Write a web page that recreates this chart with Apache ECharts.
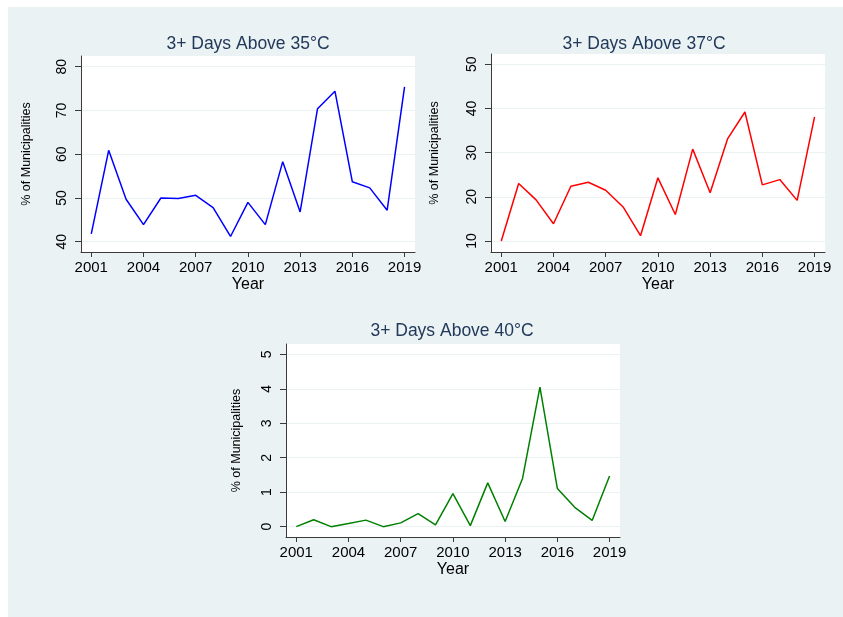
<!DOCTYPE html>
<html>
<head>
<meta charset="utf-8">
<script src="https://cdn.jsdelivr.net/npm/echarts@6/dist/echarts.min.js"></script>
<style>
  html, body { margin: 0; padding: 0; background: #ffffff; }
  #chart { width: 843px; height: 617px; }
</style>
</head>
<body>
<div id="chart"></div>
<script>
// Share of municipalities with 3+ consecutive days above each temperature threshold
const years = [2001, 2002, 2003, 2004, 2005, 2006, 2007, 2008, 2009, 2010,
               2011, 2012, 2013, 2014, 2015, 2016, 2017, 2018, 2019];
const above35 = [41.8, 60.9, 49.7, 43.9, 50.0, 49.9, 50.6, 47.8, 41.2, 49.0,
                 43.9, 58.3, 46.8, 70.4, 74.4, 53.7, 52.3, 47.2, 75.4];
const above37 = [10.0, 23.0, 19.3, 13.9, 22.4, 23.3, 21.5, 17.7, 11.2, 24.3,
                 16.0, 30.8, 20.9, 33.1, 39.2, 22.7, 23.9, 19.2, 38.1];
const above40 = [0.00, 0.20, 0.00, 0.09, 0.19, 0.00, 0.11, 0.38, 0.05, 0.96,
                 0.03, 1.27, 0.15, 1.40, 4.05, 1.11, 0.56, 0.18, 1.47];

const titles = ['3+ Days Above 35\u00B0C', '3+ Days Above 37\u00B0C', '3+ Days Above 40\u00B0C'];
const yearTicks = [2001, 2004, 2007, 2010, 2013, 2016, 2019];
const yTicks35 = [40, 50, 60, 70, 80];
const yTicks37 = [10, 20, 30, 40, 50];
const yTicks40 = [0, 1, 2, 3, 4, 5];
const xTitle = 'Year';
const yTitle = '% of Municipalities';

const FONT = '"Liberation Sans", Arial, Helvetica, sans-serif';
const BG = '#eaf2f3';
const AXIS = '#3a3a3a';
const TITLE = '#23395b';

const panels = [
  { grid: { left: 81, top: 56, width: 334, height: 196 }, yMin: 37.65, yMax: 82.45,
    ticks: yTicks35, values: above35, color: '#0000ff', nameGap: 48, title: [248, 44] },
  { grid: { left: 491, top: 54, width: 334, height: 198 }, yMin: 7.51, yMax: 52.33,
    ticks: yTicks37, values: above37, color: '#ff0000', nameGap: 50, title: [644, 44] },
  { grid: { left: 286, top: 344, width: 334, height: 193 }, yMin: -0.30, yMax: 5.30,
    ticks: yTicks40, values: above40, color: '#008000', nameGap: 43, title: [452, 331] }
];

const chart = echarts.init(document.getElementById('chart'), null, { renderer: 'canvas' });

const option = {
  backgroundColor: BG,
  animation: false,
  graphic: [
    // white margin along the top and left edges
    { type: 'rect', shape: { x: 0, y: 0, width: 843, height: 7 }, style: { fill: '#ffffff' }, silent: true },
    { type: 'rect', shape: { x: 0, y: 0, width: 8, height: 617 }, style: { fill: '#ffffff' }, silent: true }
  ].concat(panels.map((p, i) => ({
    type: 'text',
    x: p.title[0],
    y: p.title[1],
    style: {
      text: titles[i],
      fill: TITLE,
      font: '17.5px ' + FONT,
      textAlign: 'center',
      textVerticalAlign: 'middle'
    },
    silent: true
  }))),
  grid: panels.map(p => Object.assign({
    show: true, backgroundColor: '#ffffff', borderWidth: 0, containLabel: false
  }, p.grid)),
  xAxis: panels.map((p, i) => ({
    type: 'value',
    gridIndex: i,
    min: 2000.41,
    max: 2019.6,
    name: xTitle,
    nameLocation: 'middle',
    nameGap: 25,
    nameTextStyle: { color: '#000000', fontSize: 16, fontFamily: FONT },
    axisLine: { show: true, onZero: false, lineStyle: { color: AXIS, width: 1 } },
    axisTick: { show: true, inside: false, length: 5, customValues: yearTicks, lineStyle: { color: AXIS } },
    axisLabel: {
      customValues: yearTicks, color: '#000000', fontSize: 15, fontFamily: FONT, margin: 8,
      formatter: v => String(Math.round(v))
    },
    splitLine: { show: false }
  })),
  yAxis: panels.map((p, i) => ({
    type: 'value',
    gridIndex: i,
    min: p.yMin,
    max: p.yMax,
    name: yTitle,
    nameLocation: 'middle',
    nameGap: p.nameGap,
    nameTextStyle: { color: '#000000', fontSize: 12.5, fontFamily: FONT },
    axisLine: { show: true, onZero: false, lineStyle: { color: AXIS, width: 1 } },
    axisTick: { show: true, inside: false, length: 6, customValues: p.ticks, lineStyle: { color: AXIS } },
    axisLabel: {
      customValues: p.ticks, rotate: 90, color: '#000000', fontSize: 14, fontFamily: FONT, margin: 12,
      formatter: v => String(Math.round(v))
    },
    splitLine: { show: true, lineStyle: { color: BG, width: 1.2 } }
  })),
  series: panels.map((p, i) => ({
    type: 'line',
    xAxisIndex: i,
    yAxisIndex: i,
    data: years.map((y, k) => [y, p.values[k]]),
    showSymbol: false,
    symbol: 'none',
    lineStyle: { color: p.color, width: 1.5 },
    itemStyle: { color: p.color },
    z: 3
  }))
};

chart.setOption(option);
</script>
</body>
</html>
